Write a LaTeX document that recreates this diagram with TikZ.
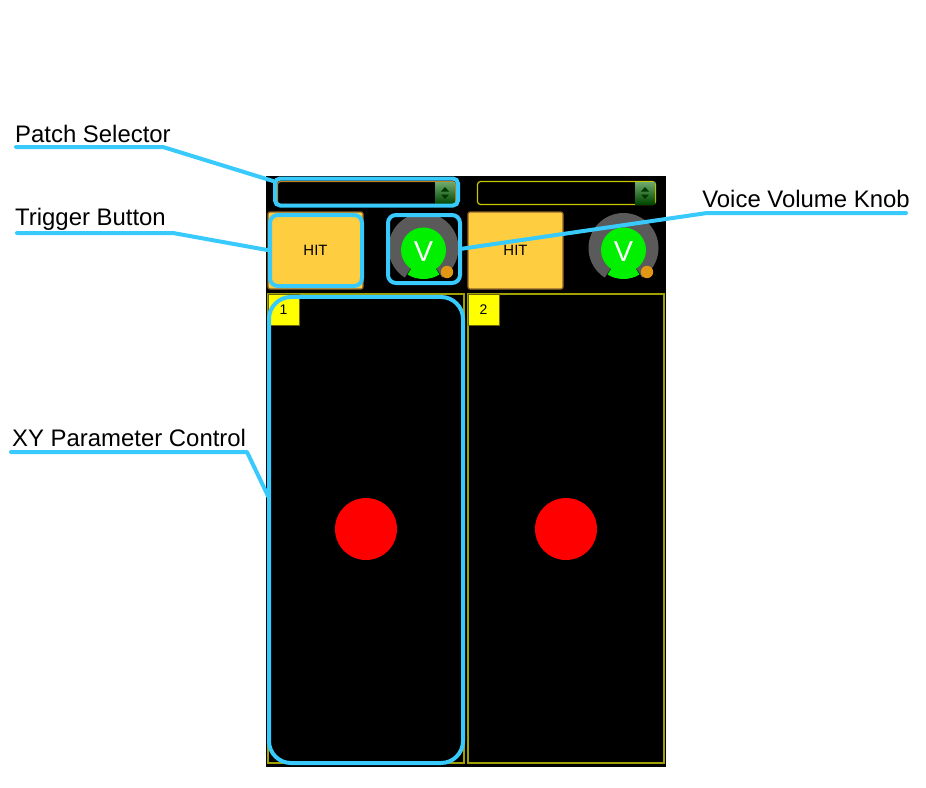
\documentclass[tikz,border=0pt]{standalone}
\usepackage{fontspec}
\setmainfont{Liberation Sans}
\definecolor{cy}{RGB}{56,202,252}
\definecolor{hitfill}{RGB}{255,206,64}
\definecolor{hitedge}{RGB}{140,100,40}
\definecolor{padedge}{RGB}{160,160,0}
\definecolor{seledge}{RGB}{200,200,0}
\definecolor{seledgeA}{RGB}{190,130,30}
\definecolor{knobgray}{RGB}{90,90,90}
\definecolor{knobgreen}{RGB}{0,240,0}
\definecolor{knoborange}{RGB}{225,150,20}
\definecolor{spinlight}{RGB}{110,170,110}
\definecolor{spindark}{RGB}{0,70,0}
\definecolor{numyellow}{RGB}{255,255,0}
\tikzset{
  lbl/.style={inner sep=0pt, font=\fontsize{24}{28}\selectfont, text=black},
  callout/.style={draw=cy, line width=4bp, line join=round, line cap=round},
  hilite/.style={draw=cy, line width=4bp, inner sep=0pt, outer sep=0pt, rounded corners=8bp},
  hitbtn/.style={fill=hitfill, draw=hitedge, line width=1.2bp, rounded corners=2bp,
     minimum width=95bp, minimum height=77bp, inner sep=0pt, font=\fontsize{15}{18}\selectfont},
  pad/.style={draw=padedge, line width=1.3bp},
  numbox/.style={fill=numyellow, draw=black!60!numyellow, line width=0.8bp, minimum width=31bp,
     minimum height=31bp, inner sep=0pt, font=\fontsize{14}{16}\selectfont},
  dot/.style={fill=red, circle, minimum size=62bp, inner sep=0pt}
}
\newcommand{\myknob}[2]{%
  \begin{scope}[shift={(#1,#2)}, yscale=-1]
    \fill[knobgray] (0,0) circle (35);
    \fill[black] (0,0) -- (-122:36.5) arc[start angle=-122, end angle=-58, radius=36.5] -- cycle;
    \fill[knobgreen] (0,0) -- (-121:31) arc[start angle=-121, end angle=-59, radius=31] -- cycle;
    \fill[knobgreen] (0,-2) circle (22.5);
    \fill[knoborange] (23.5,-24) circle (6.2);
    \node[text=white, inner sep=0pt, font=\fontsize{29}{32}\selectfont] at (0,-4) {V};
  \end{scope}}
\newcommand{\myspin}[2]{%
  \shade[top color=spinlight, bottom color=spindark] (#1,#2) rectangle ++(20,22);
  \fill[spindark!80!black] (#1+10,#2+5) -- (#1+14,#2+9.5) -- (#1+6,#2+9.5) -- cycle;
  \fill[spindark!80!black] (#1+10,#2+17) -- (#1+14,#2+12.5) -- (#1+6,#2+12.5) -- cycle;}
\begin{document}
\begin{tikzpicture}[x=1bp,y=-1bp]
\useasboundingbox (0,0) rectangle (926,788);
\fill[white] (0,0) rectangle (926,788);
% panel
\fill[black] (266,176) rectangle (666,767);
% selectors
\draw[seledgeA, line width=1.2bp, rounded corners=3bp] (277.5,181.5) rectangle (455.5,204.5);
\myspin{435}{182}
\draw[seledge, line width=1.2bp, rounded corners=3bp] (477.5,181.5) rectangle (655.5,204.5);
\myspin{635}{182}
% hit buttons
\node[hitbtn] (hit1) at (315.5,250.5) {HIT};
\node[hitbtn] (hit2) at (515.5,250.5) {HIT};
% knobs
\myknob{423.5}{248}
\myknob{623.5}{248}
% pads
\draw[pad] (268,294) rectangle (464,763);
\draw[pad] (468,294) rectangle (664,763);
\node[numbox] (n1) at (283.5,309.5) {1};
\node[numbox] (n2) at (483.5,309.5) {2};
\node[dot] (xy1) at (366,529) {};
\node[dot] (xy2) at (566,529) {};
% highlights
\node[hilite, minimum width=183bp, minimum height=27bp, rounded corners=5bp] (psel) at (366.5,192) {};
\node[hilite, minimum width=92bp, minimum height=71bp] (trig) at (316,250.5) {};
\node[hilite, minimum width=72bp, minimum height=68bp] (knobh) at (424,249) {};
\node[hilite, minimum width=194bp, minimum height=466bp, rounded corners=22bp] (xyh) at (366,530) {};
% labels
\node[lbl, anchor=base west] (lps) at (15,142) {Patch Selector};
\node[lbl, anchor=base west] (ltb) at (15,225) {Trigger Button};
\node[lbl, anchor=base] (lvk) at (806,207) {Voice Volume Knob};
\node[lbl, anchor=base west] (lxy) at (12,446) {XY Parameter Control};
% callout points
\coordinate (ps0) at (16,147);
\coordinate (ps1) at (163,147);
\coordinate (ps2) at (273,181);
\coordinate (tb0) at (17,233);
\coordinate (tb1) at (173,233);
\coordinate (vk0) at (906,213);
\coordinate (vk1) at (707,213);
\coordinate (xy0) at (11,452);
\coordinate (xyb) at (247,452);
\coordinate (xyc) at (269,498);
\draw[callout] (ps0) -- (ps1) -- (ps2);
\draw[callout] (tb0) -- (tb1) -- (trig.west);
\draw[callout] (vk0) -- (vk1) -- (knobh.east);
\draw[callout] (xy0) -- (xyb) -- (xyc);
\end{tikzpicture}
\end{document}
